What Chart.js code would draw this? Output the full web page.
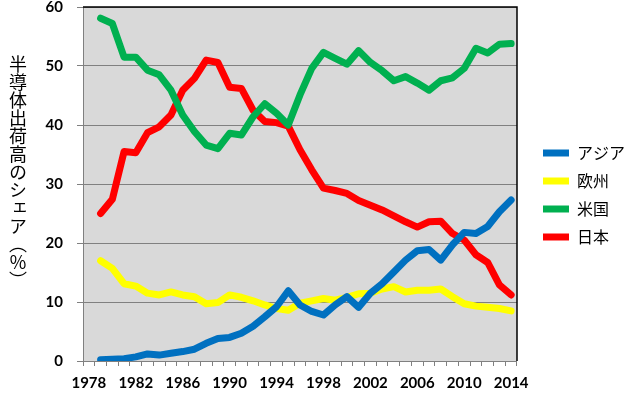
<!DOCTYPE html>
<html>
<head>
<meta charset="utf-8">
<script src="https://cdn.jsdelivr.net/npm/chart.js@4"></script>
<style>
  html, body { margin: 0; padding: 0; background: #fff; }
  .wrap { position: relative; width: 629px; height: 399px; }
  #myChart { position: absolute; left: 0; top: 0; }
  .ytitle {
    position: absolute; left: 7px; top: 55px;
    writing-mode: vertical-rl; text-orientation: mixed;
    font-family: "Noto Sans CJK JP", sans-serif; font-size: 18px; line-height: 22px;
    color: #000;
  }
</style>
</head>
<body>
<div class="wrap">
  <canvas id="myChart" width="629" height="399"></canvas>
  <div class="ytitle">半導体出荷高のシェア（％）</div>
</div>
<script>
'use strict';

// 年（1978 は空のカテゴリ）
var years = [];
for (var y = 1978; y <= 2014; y++) years.push(String(y));

var asia = [null, 0.2, 0.3, 0.4, 0.7, 1.2, 1.0, 1.3, 1.6, 2.0, 3.0, 3.8, 4.0, 4.7, 5.9, 7.5, 9.2, 11.9, 9.5, 8.4,
  7.8, 9.5, 10.9, 9.1, 11.5, 13.1, 15.1, 17.1, 18.7, 18.9, 17.1, 19.7, 21.8, 21.6, 22.8, 25.3, 27.3];
var europe = [null, 17.0, 15.7, 13.1, 12.7, 11.5, 11.2, 11.7, 11.2, 10.9, 9.7, 9.9, 11.2, 10.8, 10.2, 9.5, 8.9, 8.6, 9.8, 10.2,
  10.6, 10.3, 10.8, 11.4, 11.5, 12.2, 12.6, 11.7, 12.0, 12.0, 12.2, 10.9, 9.7, 9.3, 9.1, 8.9, 8.5];
var usa = [null, 58.1, 57.2, 51.5, 51.5, 49.3, 48.5, 45.9, 41.7, 38.9, 36.6, 36.0, 38.6, 38.3, 41.4, 43.6, 42.0, 40.0, 45.1, 49.6,
  52.3, 51.3, 50.3, 52.6, 50.6, 49.2, 47.5, 48.2, 47.1, 45.9, 47.5, 48.0, 49.6, 53.0, 52.2, 53.7, 53.8];
var japan = [null, 25.0, 27.4, 35.5, 35.3, 38.7, 39.7, 41.7, 45.9, 47.9, 51.0, 50.6, 46.4, 46.2, 42.5, 40.6, 40.4, 39.8, 35.8, 32.4,
  29.3, 28.9, 28.4, 27.2, 26.4, 25.6, 24.6, 23.6, 22.7, 23.6, 23.7, 21.6, 20.5, 18.0, 16.7, 12.9, 11.2];

var yTicks = [0, 10, 20, 30, 40, 50, 60];

function line(label, data, color) {
  return {
    label: label,
    data: data,
    borderColor: color,
    backgroundColor: color,
    borderWidth: 7,
    pointRadius: 0,
    tension: 0,
    borderJoinStyle: 'round',
    borderCapStyle: 'round'
  };
}

// 灰色の背景と黒い枠、凡例の位置調整
var plotArea = {
  id: 'plotArea',
  afterLayout: function (chart) {
    chart.legend.left += 14;
    chart.legend.right += 14;
    chart.legend.top -= 8;
    chart.legend.bottom -= 8;
  },
  beforeDraw: function (chart) {
    var a = chart.chartArea, ctx = chart.ctx;
    ctx.save();
    ctx.fillStyle = '#d9d9d9';
    ctx.fillRect(a.left, a.top, a.right - a.left, a.bottom - a.top);
    ctx.restore();
  },
  afterDraw: function (chart) {
    var a = chart.chartArea, ctx = chart.ctx;
    ctx.save();
    ctx.strokeStyle = '#000';
    ctx.lineWidth = 1.5;
    ctx.beginPath();
    ctx.moveTo(a.left, a.top);
    ctx.lineTo(a.right, a.top);
    ctx.lineTo(a.right, a.bottom);
    ctx.stroke();
    ctx.restore();
  }
};

var ctx = document.getElementById('myChart').getContext('2d');
var chart = new Chart(ctx, {
  type: 'line',
  data: {
    labels: years,
    datasets: [
      line('アジア', asia, '#0070c0'),
      line('欧州', europe, '#ffff00'),
      line('米国', usa, '#00b050'),
      line('日本', japan, '#ff0000')
    ]
  },
  options: {
    responsive: false,
    animation: false,
    layout: { padding: { left: 0, top: 7, right: 8, bottom: 0 } },
    plugins: {
      tooltip: { enabled: false },
      legend: {
        position: 'right',
        labels: {
          color: '#000',
          font: { family: '"Noto Sans CJK JP", sans-serif', size: 16 },
          boxWidth: 26,
          boxHeight: 7,
          padding: 12,
          generateLabels: function (c) {
            var items = Chart.defaults.plugins.legend.labels.generateLabels(c);
            items.forEach(function (it) {
              it.lineWidth = 0;
              it.fillStyle = it.strokeStyle;
            });
            return items;
          }
        }
      }
    },
    scales: {
      x: {
        offset: true,
        grid: { offset: true, drawOnChartArea: false, drawTicks: true, tickLength: 5, color: '#808080' },
        border: { color: '#808080', width: 1 },
        ticks: {
          autoSkip: false,
          maxRotation: 0,
          padding: 8,
          color: '#000',
          font: { family: 'Lato', weight: 'bold', size: 15 },
          callback: function (v, i) { return i % 4 === 0 ? years[i] : ''; }
        },
        afterFit: function (s) { s.height = 38; }
      },
      y: {
        min: 0,
        max: 60,
        afterBuildTicks: function (s) { s.ticks = yTicks.map(function (v) { return { value: v }; }); },
        grid: { color: '#808080', tickLength: 6, lineWidth: 1 },
        border: { color: '#808080', width: 1 },
        ticks: {
          padding: 14,
          color: '#000',
          font: { family: 'Lato', weight: 'bold', size: 15, lineHeight: 1 }
        },
        afterFit: function (s) {
          s.width = 83;
          s.paddingTop = 7;
          s.paddingBottom = 7;
        }
      }
    }
  },
  plugins: [plotArea]
});
</script>
</body>
</html>
